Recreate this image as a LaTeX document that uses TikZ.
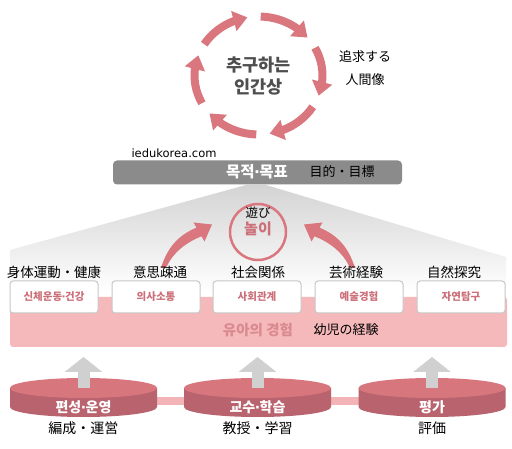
\documentclass[tikz,border=0pt]{standalone}
\usepackage{fontspec}
\setmainfont{DejaVu Sans}
\newfontfamily\krfont{Noto Sans CJK KR}
\newfontfamily\jpfont{Noto Sans CJK JP}
\usetikzlibrary{arrows.meta,bending,calc}
\definecolor{cycpink}{HTML}{D9767E}
\definecolor{markpink}{HTML}{CC6F79}
\definecolor{softpink}{HTML}{D98990}
\definecolor{bandpink}{HTML}{F6B9BB}
\definecolor{disctop}{HTML}{D8767E}
\definecolor{discside}{HTML}{B9636E}
\definecolor{linkpink}{HTML}{F2B4B7}
\definecolor{barfill}{HTML}{8B8B8B}
\definecolor{upgray}{HTML}{D0D0D0}
\definecolor{inktext}{HTML}{4E4E4E}
\tikzset{
  cyc/.style={draw=cycpink, line width=8pt, -{Triangle[width=20pt,length=14pt]}},
  goalbar/.style={fill=barfill, rounded corners=4pt, minimum width=289pt,
    minimum height=24pt, inner sep=0pt},
  areabox/.style={draw=black!22, fill=white, rounded corners=3pt, line width=1pt,
    minimum width=88pt, minimum height=32pt, inner sep=0pt, text=markpink,
    font=\krfont\bfseries\fontsize{10.5}{11}\selectfont},
  jplabel/.style={inner sep=0pt, text=black, font=\jpfont\fontsize{13.5}{15}\selectfont},
  discname/.style={inner sep=0pt, text=white, font=\krfont\bfseries\fontsize{14}{15}\selectfont},
  uparrow/.style={draw=upgray, line width=12pt, -{Triangle[width=37pt,length=15pt]}}
}
\newcommand{\kdot}{{\rmfamily\kern-0.5pt·\kern-0.5pt}}
\newcommand{\playarrow}{%
  \fill[cycpink] (161,268) .. controls (168,245) and (181,234) .. (196.5,227.7)
    -- (193.5,222.5) -- (212,224.5) -- (204.5,241.5) -- (201.5,236.3)
    .. controls (187,242) and (173,252) .. (166,268) -- cycle;}
\newcommand{\disc}[4]{%
  \fill[discside] (#1-73.5,388) -- (#1-73.5,407)
    arc[start angle=180, end angle=0, x radius=73.5, y radius=10] -- (#1+73.5,388) -- cycle;
  \fill[disctop] (#1,388) ellipse[x radius=73.5, y radius=10];
  \draw[uparrow] (#1,388) -- (#1,357);
  \node[discname] (#4) at (#1,407) {#2};
  \node[jplabel, font=\jpfont\fontsize{14}{15}\selectfont] (#4jp) at (#1,428) {#3};}

\begin{document}
\begin{tikzpicture}[x=1pt, y=-1pt]
  \useasboundingbox[fill=white] (0,0) rectangle (512,449);
  % cycle of the ideal person
  \coordinate (ctr) at (258.5,75.5);
  \foreach \a in {0,60,...,300}
    \draw[cyc] ($(ctr)+({64*cos(212+\a)},{59*sin(212+\a)})$)
      arc[start angle=212+\a, end angle=260+\a, x radius=64, y radius=59];
  \node[align=center, text=inktext, font=\krfont\bfseries\fontsize{17.5}{22}\selectfont]
    (ideal) at (ctr) {추구하는\\인간상};
  \node[jplabel, align=center, font=\jpfont\fontsize{13}{23}\selectfont] (idealjp) at (365,68) {追求する\\人間像};
  \node[inner sep=0pt, font=\fontsize{11.5}{12}\selectfont] (site) at (174,153) {iedukorea.com};
  % goal bar and the fan below it
  \shade[top color=black!17, bottom color=white]
    (246,185) -- (266,185) -- (506,257) -- (506,292) -- (10,292) -- (10,250) -- cycle;
  \node[goalbar] (goal) at (257.5,172.5) {};
  \node[inner sep=0pt, text=white, font=\krfont\bfseries\fontsize{15.5}{16}\selectfont] (goalkr) at (257,172) {목적\kdot 목표};
  \node[jplabel, font=\jpfont\fontsize{13}{15}\selectfont] (goaljp) at (342,172) {目的・目標};
  % play
  \node[circle, draw=cycpink, line width=2.5pt, minimum size=56pt, inner sep=0pt] (play) at (258,232) {};
  \node[jplabel, font=\jpfont\fontsize{12.5}{13}\selectfont] (playjp) at (258,213) {遊び};
  \node[inner sep=0pt, text=markpink, font=\krfont\bfseries\fontsize{15}{16}\selectfont] (playkr) at (258,229) {놀이};
  \playarrow
  \begin{scope}[shift={(516,0)}, xscale=-1]
    \playarrow
  \end{scope}
  % experience band and areas
  \fill[bandpink, rounded corners=3pt] (10,297) rectangle (507,347);
  \node[jplabel] (l1) at (54,272) {身体運動・健康};
  \node[jplabel] (l2) at (160,272) {意思疎通};
  \node[jplabel] (l3) at (258,272) {社会関係};
  \node[jplabel] (l4) at (356,272) {芸術経験};
  \node[jplabel] (l5) at (454,272) {自然探究};
  \node[areabox] (a1) at (54,297) {신체운동\kdot 건강};
  \node[areabox] (a2) at (156,297) {의사소통};
  \node[areabox] (a3) at (257,297) {사회관계};
  \node[areabox] (a4) at (359,297) {예술경험};
  \node[areabox] (a5) at (461,297) {자연탐구};
  \node[inner sep=0pt, text=softpink, font=\krfont\bfseries\fontsize{14.5}{15}\selectfont] (exp) at (258,330) {유아의 경험};
  \node[jplabel, font=\jpfont\fontsize{13}{15}\selectfont] (expjp) at (346,330) {幼児の経験};
  % curriculum discs
  \fill[linkpink] (83.5,397) rectangle (432,405);
  \disc{83.5}{편성\kdot 운영}{編成・運営}{d1}
  \disc{257.5}{교수\kdot 학습}{教授・学習}{d2}
  \disc{432}{평가}{評価}{d3}
\end{tikzpicture}
\end{document}
